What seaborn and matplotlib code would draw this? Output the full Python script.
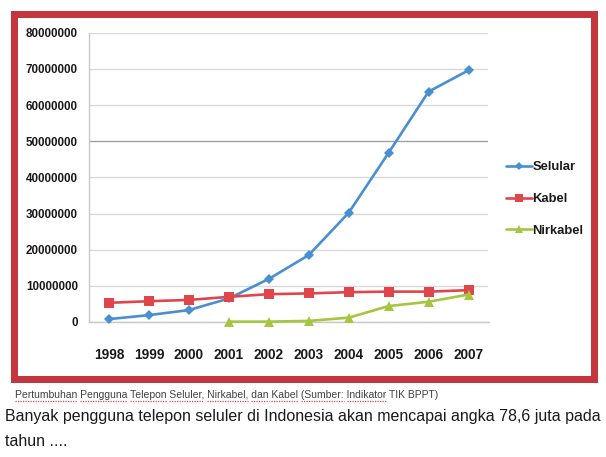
import matplotlib
matplotlib.use('Agg')
import matplotlib.pyplot as plt
import pandas as pd
import numpy as np
import seaborn as sns
from matplotlib.patches import Rectangle
from matplotlib.lines import Line2D
from matplotlib.ticker import FixedLocator, FuncFormatter

# data (users)
years = [1998, 1999, 2000, 2001, 2002, 2003, 2004, 2005, 2006, 2007]
selular = [800000, 1900000, 3300000, 6500000, 11900000, 18500000, 30200000, 46800000, 63700000, 69600000]
kabel = [5300000, 5750000, 6100000, 6950000, 7700000, 7900000, 8250000, 8400000, 8400000, 8800000]
nirkabel = [np.nan, np.nan, np.nan, 100000, 100000, 300000, 1200000, 4400000, 5600000, 7600000]
series_names = ['Selular', 'Kabel', 'Nirkabel']
y_ticks = [0, 10000000, 20000000, 30000000, 40000000, 50000000, 60000000, 70000000, 80000000]

caption = 'Pertumbuhan Pengguna Telepon Seluler, Nirkabel, dan Kabel (Sumber: Indikator TIK BPPT)'
underlined = ['Pertumbuhan', 'Pengguna', 'Telepon', 'Seluler,', 'Nirkabel,', 'dan', 'Kabel', '(Sumber:', 'Indikator']
question_1 = 'Banyak pengguna telepon seluler di Indonesia akan mencapai angka 78,6 juta pada'
question_2 = 'tahun ....'

df = pd.DataFrame({'year': years * 3,
                   'users': selular + kabel + nirkabel,
                   'series': [n for n in series_names for _ in years]})

colors = {'Selular': '#4a8fd0', 'Kabel': '#e0454c', 'Nirkabel': '#a6c640'}
markers = {'Selular': 'D', 'Kabel': 's', 'Nirkabel': '^'}
msizes = {'Selular': 5, 'Kabel': 7, 'Nirkabel': 6.5}

sns.set_style('white')
plt.rcParams['font.family'] = ['Liberation Sans', 'DejaVu Sans']

W, H = 606, 457
fig = plt.figure(figsize=(W / 100, H / 100), dpi=100)

# red frame around the chart
fig.add_artist(Rectangle((13.5 / W, 1 - 379 / H), (594 - 13.5) / W, (379 - 14) / H,
                         transform=fig.transFigure, fill=False, ec='#c4363d', lw=7 * 0.72))

ax = fig.add_axes([89 / W, 1 - 322 / H, 399.5 / W, (322 - 32.7) / H])

for name in series_names:
    sub = df[df.series == name].dropna()
    sns.lineplot(data=sub, x='year', y='users', ax=ax, color=colors[name], lw=1.9,
                 marker=markers[name], markersize=msizes[name], markeredgewidth=0,
                 label=name, clip_on=False, zorder=3)

ax.set_xlim(years[0] - 0.5, years[-1] + 0.5)
ax.set_ylim(0, 80000000)
ax.set_xlabel('')
ax.set_ylabel('')

ax.yaxis.set_major_locator(FixedLocator(y_ticks))
ax.yaxis.set_major_formatter(FuncFormatter(lambda v, p: '%d' % v))
ax.set_xticks(years)
ax.set_xticklabels([str(y) for y in years], fontsize=9.8, fontweight='bold', color='#1a1a1a')
ax.set_xticks([y + 0.5 for y in [years[0] - 1] + years], minor=True)
ax.tick_params(axis='x', which='major', length=0, pad=19)
ax.tick_params(axis='x', which='minor', length=4, color='#c8c8c8', width=1, direction='out')
ax.tick_params(axis='y', length=3, color='#c8c8c8', width=1, direction='out', pad=5,
               labelsize=8.4, labelcolor='#1a1a1a')
for lab in ax.get_yticklabels():
    lab.set_fontweight('bold')

ax.grid(axis='y', color='#d9d9d9', lw=1)
ax.grid(axis='x', visible=False)
gl = ax.get_ygridlines()
gl[5].set_color('#a0a0a0')
for s in ['top', 'right']:
    ax.spines[s].set_visible(False)
for s in ['left', 'bottom']:
    ax.spines[s].set_color('#c8c8c8')
    ax.spines[s].set_linewidth(1)

handles, labels = ax.get_legend_handles_labels()
leg = ax.legend(handles, labels, loc='center left', bbox_to_anchor=(494 / W, 1 - 199 / H),
                bbox_transform=fig.transFigure, frameon=False, fontsize=9.4,
                handlelength=2.0, handletextpad=0.05, labelspacing=1.5, markerscale=0.8)
for t in leg.get_texts():
    t.set_fontweight('bold')
    t.set_color('#1a1a1a')

# caption with red spell-check underlines
cap_x, cap_y = 15, 395
cap = fig.text(cap_x / W, 1 - cap_y / H, caption, fontsize=7.5, color='#404040',
               va='center', ha='left')
renderer = fig.canvas.get_renderer()
prop = cap.get_fontproperties()
cap_bb = cap.get_window_extent(renderer)
pos = 0
for word in caption.split(' '):
    idx = caption.index(word, pos)
    pos = idx + len(word)
    if word in underlined:
        w_end, _, _ = renderer.get_text_width_height_descent(caption[:pos], prop, ismath=False)
        w_word, _, _ = renderer.get_text_width_height_descent(word, prop, ismath=False)
        x1 = cap_bb.x0 + w_end
        x0 = x1 - w_word
        fig.add_artist(Line2D([x0, x1], [cap_bb.y0 - 0.5, cap_bb.y0 - 0.5], transform=None,
                              color='#d84a4a', lw=0.9, ls=(0, (1, 1))))

fig.text(5 / W, 1 - 416 / H, question_1, fontsize=11.5, color='#1a1a1a',
         va='center', ha='left')
fig.text(5 / W, 1 - 441 / H, question_2, fontsize=11.5, color='#1a1a1a',
         va='center', ha='left')

fig.savefig('out.png', dpi=100)
